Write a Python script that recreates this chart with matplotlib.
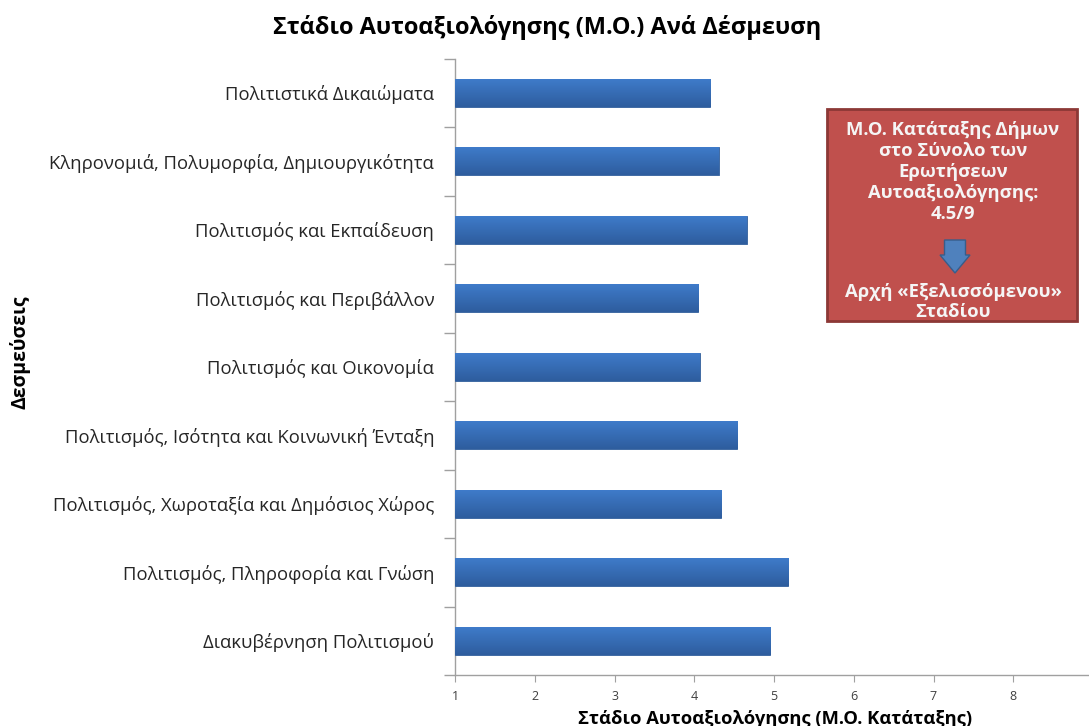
import matplotlib
matplotlib.use("Agg")
import matplotlib.pyplot as plt
from matplotlib.patches import FancyBboxPatch, FancyArrow
from matplotlib.colors import LinearSegmentedColormap
import numpy as np

plt.rcParams['font.family'] = ['Open Sans', 'DejaVu Sans']

categories = [
    "Πολιτιστικά Δικαιώματα",
    "Κληρονομιά, Πολυμορφία, Δημιουργικότητα",
    "Πολιτισμός και Εκπαίδευση",
    "Πολιτισμός και Περιβάλλον",
    "Πολιτισμός και Οικονομία",
    "Πολιτισμός, Ισότητα και Κοινωνική Ένταξη",
    "Πολιτισμός, Χωροταξία και Δημόσιος Χώρος",
    "Πολιτισμός, Πληροφορία και Γνώση",
    "Διακυβέρνηση Πολιτισμού",
]
values = [4.20, 4.31, 4.66, 4.05, 4.07, 4.54, 4.34, 5.18, 4.95]
xticks = [1, 2, 3, 4, 5, 6, 7, 8]

title = "Στάδιο Αυτοαξιολόγησης (Μ.Ο.) Ανά Δέσμευση"
xlabel = "Στάδιο Αυτοαξιολόγησης (Μ.Ο. Κατάταξης)"
ylabel = "Δεσμεύσεις"
box_text = ("Μ.Ο. Κατάταξης Δήμων\nστο Σύνολο των\nΕρωτήσεων\n"
            "Αυτοαξιολόγησης:\n4.5/9")
box_text2 = "Αρχή «Εξελισσόμενου»\nΣταδίου"

W, H = 1089, 726
fig = plt.figure(figsize=(W / 100, H / 100), dpi=100)
ax = fig.add_axes([455 / W, 1 - 675 / H, (1093 - 455) / W, (675 - 58.5) / H])

y = np.arange(len(categories))
bars = ax.barh(y, [v - 1 for v in values], left=1, height=0.41,
               color='#3A6DB3', edgecolor='#325f9c', linewidth=0.6, zorder=3)

# gradient fill on the bars
grad = np.linspace(0, 1, 64).reshape(-1, 1)
cmap = LinearSegmentedColormap.from_list('b', ['#3F7CCB', '#2E5D9E'])
for b in bars:
    x0, y0 = b.get_x(), b.get_y()
    im = ax.imshow(grad, extent=[x0, x0 + b.get_width(), y0 + b.get_height(), y0],
                   aspect='auto', cmap=cmap, zorder=4)
    im.set_clip_path(b)

ax.set_xlim(1, 9)
ax.set_ylim(len(categories) - 0.5, -0.5)
ax.set_yticks(y)
ax.set_yticklabels(categories, fontsize=13.3, color='#262626')
ax.set_yticks(np.arange(-0.5, len(categories), 1), minor=True)
ax.tick_params(axis='y', which='major', length=0, pad=15)
ax.tick_params(axis='y', which='minor', length=8, color='#a0a0a0', width=1)
ax.set_xticks(xticks)
ax.set_xticklabels([str(t) for t in xticks], fontsize=9, color='#404040')
ax.tick_params(axis='x', length=5, color='#a0a0a0', pad=6)

for s in ['top', 'right']:
    ax.spines[s].set_visible(False)
for s in ['left', 'bottom']:
    ax.spines[s].set_color('#a0a0a0')
    ax.spines[s].set_linewidth(1)

fig.text(547 / W, 1 - 28 / H, title, ha='center', va='center',
         fontsize=17, fontweight='bold', color='#000000')
fig.text(775 / W, 1 - 719 / H, xlabel, ha='center', va='center',
         fontsize=13.2, fontweight='bold', color='#000000')
fig.text(20 / W, 1 - 352 / H, ylabel, ha='center', va='center', rotation=90,
         fontsize=14, fontweight='bold', color='#000000')

# annotation box
box = FancyBboxPatch((827 / W, 1 - 321 / H), (1077 - 827) / W, (321 - 109) / H,
                     boxstyle='square,pad=0', transform=fig.transFigure,
                     facecolor='#C0504D', edgecolor='#8C3836', linewidth=2,
                     zorder=5)
fig.patches.append(box)
fig.text(953 / W, 1 - 172 / H, box_text, ha='center', va='center',
         fontsize=13.3, fontweight='bold', color='#F5F5F5', linespacing=1.2,
         zorder=6)
fig.text(953 / W, 1 - 302 / H, box_text2, ha='center', va='center',
         fontsize=13.3, fontweight='bold', color='#F5F5F5', linespacing=1.1,
         zorder=6)
arrow = FancyArrow(955 / W, 1 - 240 / H, 0, -(273 - 240) / H, width=14 / H,
                   head_width=30 / W, head_length=18 / H,
                   length_includes_head=True, transform=fig.transFigure,
                   facecolor='#4F81BD', edgecolor='#385D8A', linewidth=1,
                   zorder=7)
fig.patches.append(arrow)

fig.savefig('out.png', dpi=100)
